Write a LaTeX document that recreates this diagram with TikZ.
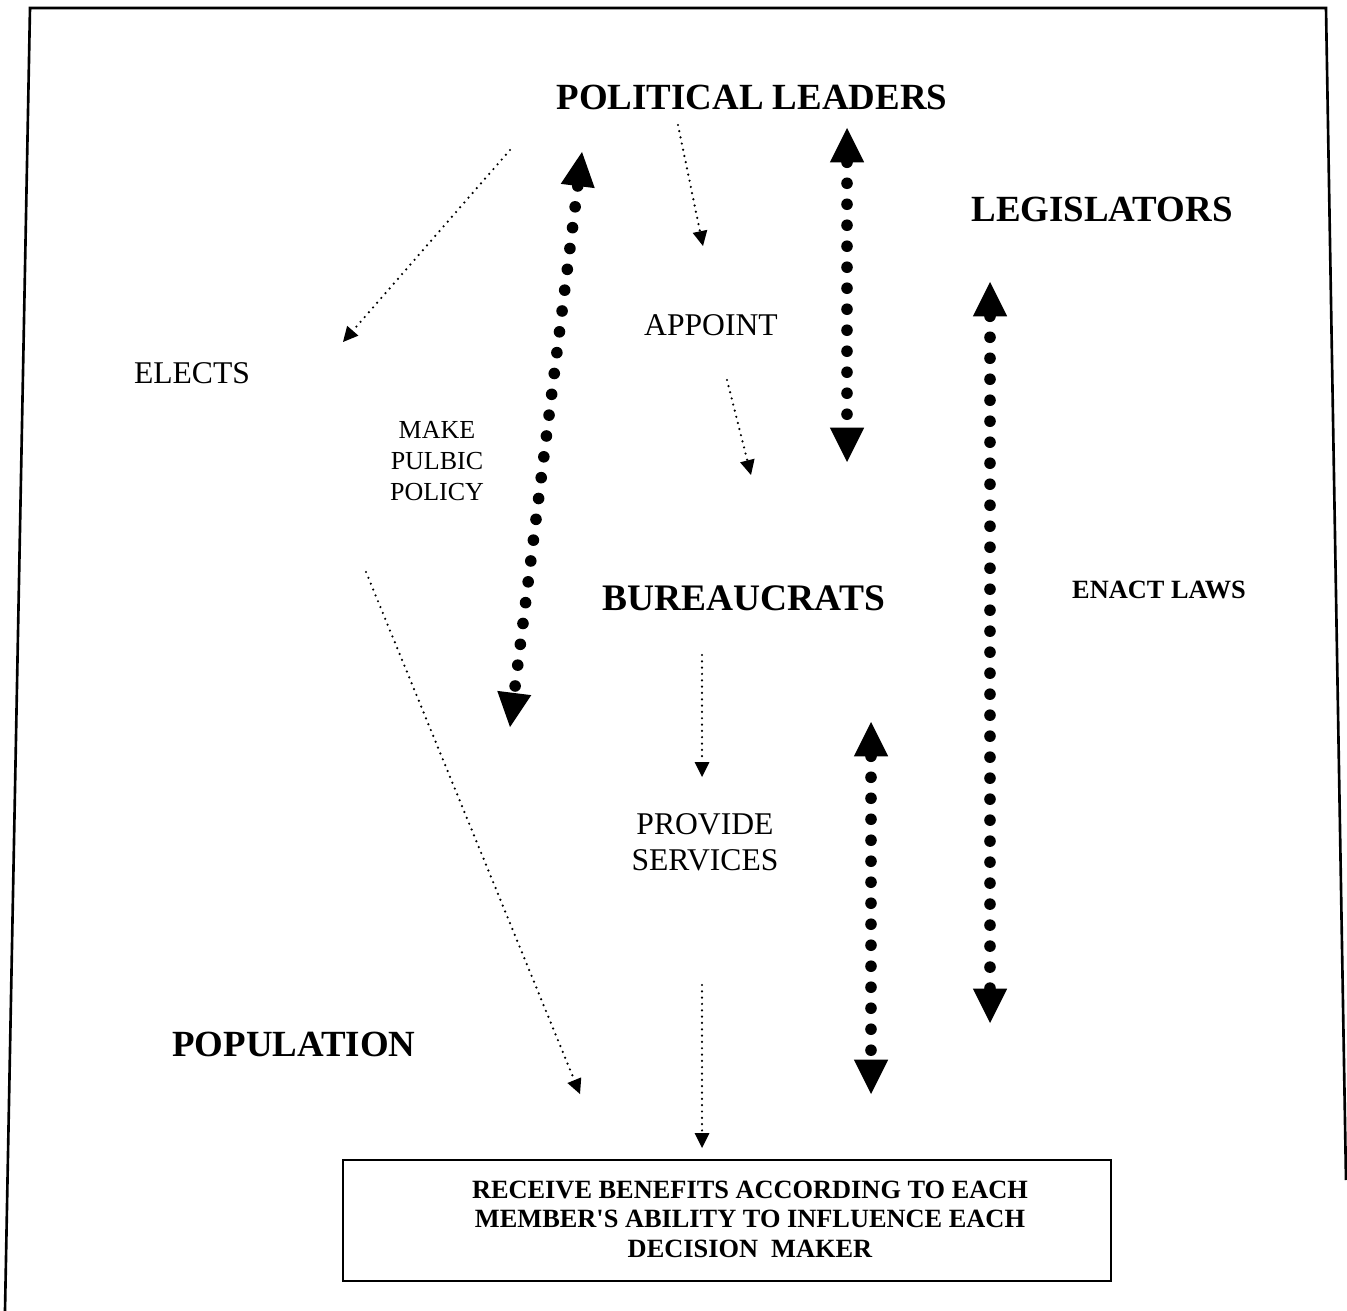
\documentclass[tikz,border=0pt]{standalone}
\usepackage{fontspec}
\setmainfont{Liberation Serif}
\usepackage{tikz}
\usetikzlibrary{arrows.meta, positioning}
\tikzset{
    bignode/.style = {draw=none, fill=none, rectangle, inner sep=0em, font=\fontsize{21}{25}\selectfont\bfseries},
    textnode/.style = {draw=none, fill=none, rectangle, inner sep=0em, align=center, font=\fontsize{18}{20.5}\selectfont},
    smalltextnode/.style = {draw=none, fill=none, rectangle, inner sep=0em, align=center, font=\fontsize{14.8}{17.6}\selectfont},
    boldtextnode/.style = {draw=none, fill=none, rectangle, inner sep=0em, align=center, font=\fontsize{15}{16.8}\selectfont\bfseries},
    rectanglenode/.style = {draw, rectangle, inner sep=0em, line width=1.1pt},
    connect/.style = {black, line width=1.4pt, line cap=round, dash pattern=on 0pt off 3.6pt,
      -{Triangle[length=8.5pt, width=8.5pt, line width=0pt]}},
    dblconnect/.style = {black, line width=6.6pt, line cap=round, dash pattern=on 0pt off 11.95pt,
      {Triangle[length=19.5pt, width=19.5pt, line width=0pt]}-{Triangle[length=19.5pt, width=19.5pt, line width=0pt]}}
}

\begin{document}
\begin{tikzpicture}[x=0.02cm, y=-0.02cm]
    \useasboundingbox (0,0) rectangle (1347,1311);
    % outer frame
    \draw [line width=1.5pt] (5,1311) -- (30,8) -- (1326,8) -- (1346,1180);

    \node [name=leaders, bignode] at (752,97) {POLITICAL LEADERS};
    \node [name=legislators, bignode] at (1102,209) {LEGISLATORS};
    \node [name=bureaucrats, bignode, font=\fontsize{21.3}{25}\selectfont\bfseries] at (744,598) {BUREAUCRATS};
    \node [name=population, bignode] at (294,1044) {POPULATION};

    \node [name=appoint, textnode] at (711,325) {APPOINT};
    \node [name=elects, textnode] at (192,373) {ELECTS};
    \node [name=policy, smalltextnode] at (437,461) {MAKE\\PULBIC\\POLICY};
    \node [name=services, textnode] at (705,842) {PROVIDE\\SERVICES};
    \node [name=enact, boldtextnode] at (1159,590) {ENACT LAWS};

    \node [name=box, rectanglenode, minimum width=15.36cm, minimum height=2.42cm] at (727,1220.5) {};
    \node [name=benefits, boldtextnode] at (750,1219)
        {RECEIVE BENEFITS ACCORDING TO EACH\\MEMBER\textquotesingle S ABILITY TO INFLUENCE EACH\\DECISION~~MAKER};

    % end points of the connectors
    \coordinate (elects-from) at (510,150);
    \coordinate (elects-to) at (343,342);
    \coordinate (appoint-from) at (678,125);
    \coordinate (appoint-to) at (703,246);
    \coordinate (bureau-from) at (727,380);
    \coordinate (bureau-to) at (751,475);
    \coordinate (services-from) at (702,655);
    \coordinate (services-to) at (702,777);
    \coordinate (population-from) at (366,572);
    \coordinate (population-to) at (580,1094);
    \coordinate (benefits-from) at (702,985);
    \coordinate (benefits-to) at (702,1148);

    \coordinate (policy-top) at (582,152);
    \coordinate (policy-bottom) at (510,727);
    \coordinate (leaders-top) at (847,128);
    \coordinate (leaders-bottom) at (847,462);
    \coordinate (laws-top) at (990,282);
    \coordinate (laws-bottom) at (990,1023);
    \coordinate (services-top) at (871,722);
    \coordinate (services-bottom) at (871,1094);

    \draw [connect] (elects-from) -- (elects-to);
    \draw [connect] (appoint-from) -- (appoint-to);
    \draw [connect] (bureau-from) -- (bureau-to);
    \draw [connect] (services-from) -- (services-to);
    \draw [connect] (population-from) -- (population-to);
    \draw [connect] (benefits-from) -- (benefits-to);

    \draw [dblconnect] (policy-top) -- (policy-bottom);
    \draw [dblconnect] (leaders-top) -- (leaders-bottom);
    \draw [dblconnect] (laws-top) -- (laws-bottom);
    \draw [dblconnect] (services-top) -- (services-bottom);
\end{tikzpicture}
\end{document}
